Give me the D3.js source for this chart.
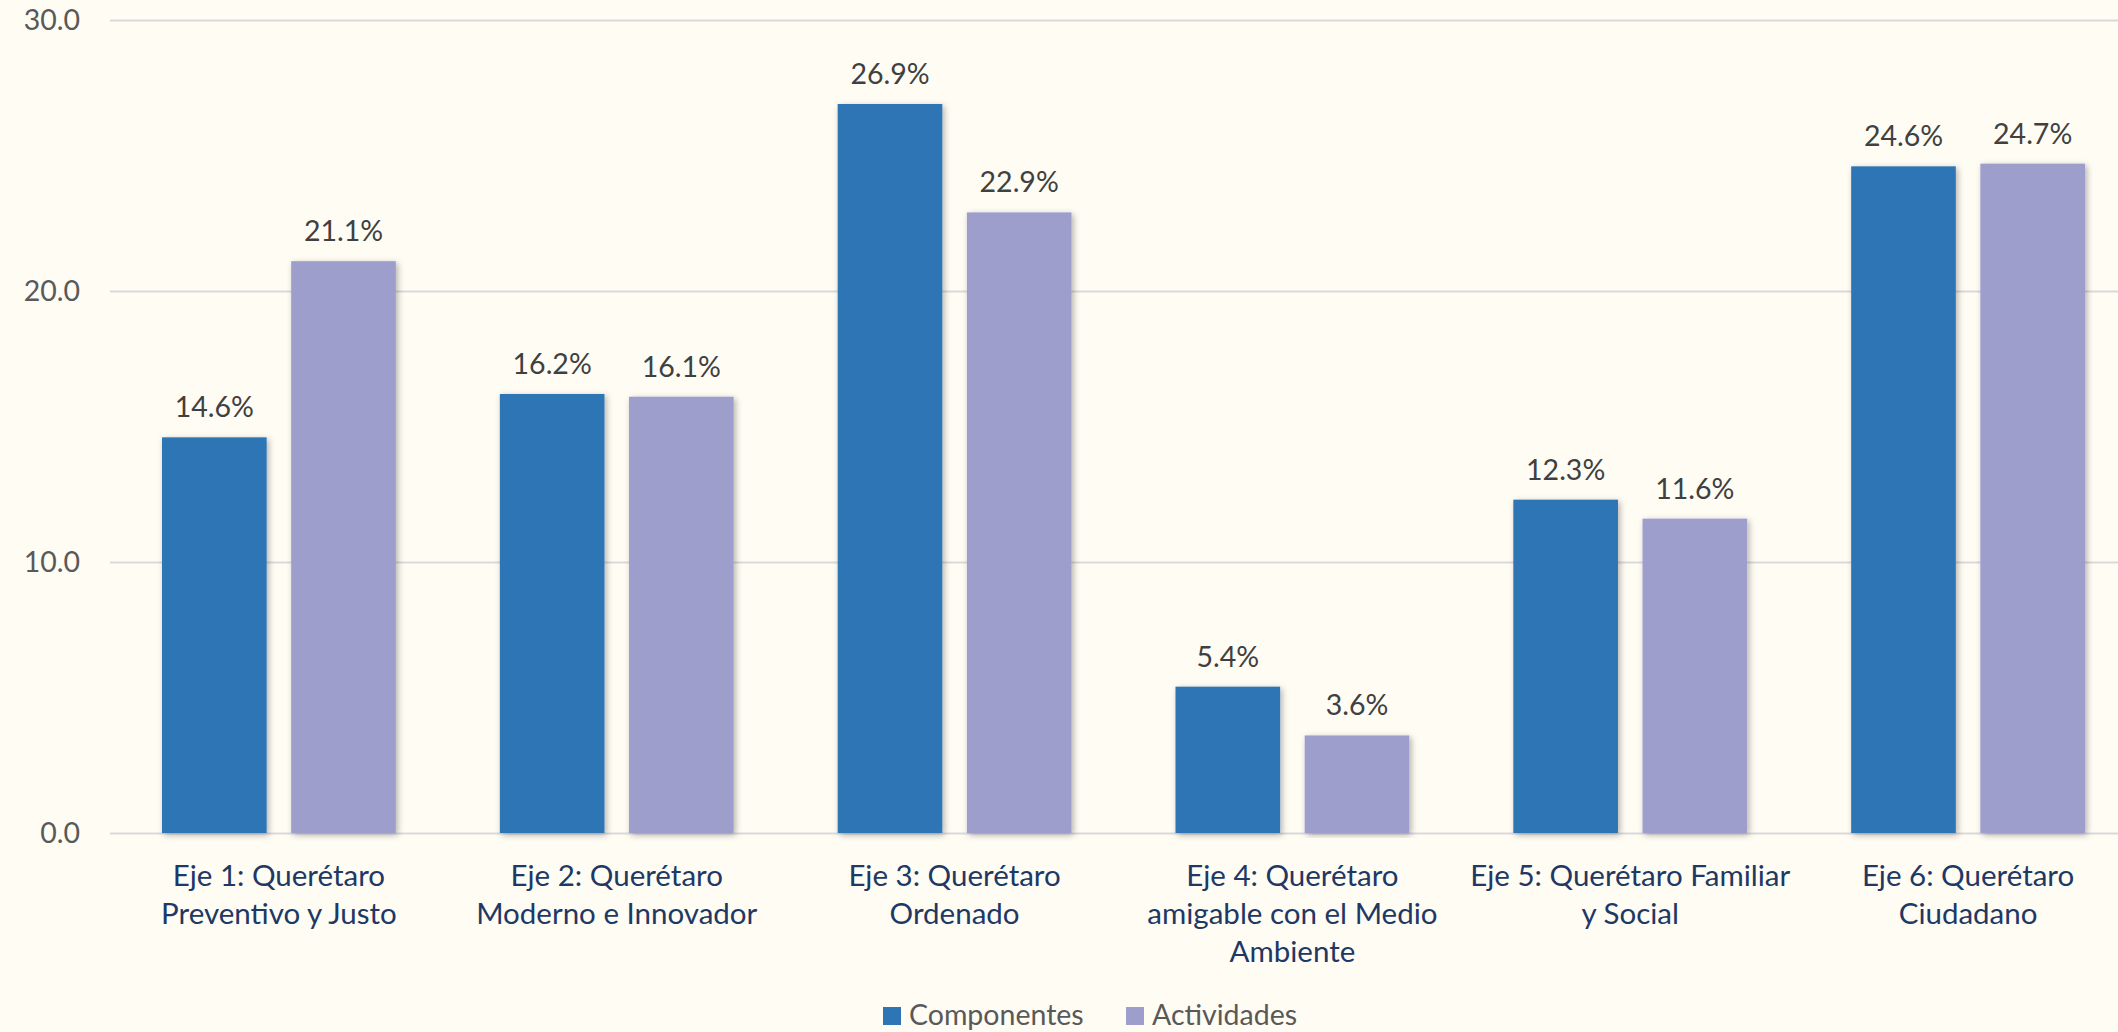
<!DOCTYPE html>
<html>
<head>
<meta charset="utf-8">
<script src="https://cdn.jsdelivr.net/npm/d3@7"></script>
<style>
  html, body { margin: 0; padding: 0; background: #fffcf4; overflow: hidden; }
  text { font-family: Lato, "Open Sans", sans-serif; }
</style>
</head>
<body>
<svg id="chart" width="2118" height="1032"></svg>
<script>
// chart data
let categories = [
    ["Eje 1: Querétaro", "Preventivo y Justo"],
    ["Eje 2: Querétaro", "Moderno e Innovador"],
    ["Eje 3: Querétaro", "Ordenado"],
    ["Eje 4: Querétaro", "amigable con el Medio", "Ambiente"],
    ["Eje 5: Querétaro Familiar", "y Social"],
    ["Eje 6: Querétaro", "Ciudadano"]
];
let seriesNames = ["Componentes", "Actividades"];
let componentes = [14.6, 16.2, 26.9, 5.4, 12.3, 24.6];
let actividades = [21.1, 16.1, 22.9, 3.6, 11.6, 24.7];
let yTicks = [0, 10, 20, 30];
let colors = ["#2e75b6", "#9e9ecc"];

let svg = d3.select("#chart");
let plotLeft = 110, plotRight = 2137; // plot runs a bit past the right edge, like the original
let plotTop = 20, plotBottom = 833;

let rows = categories.map((c, i) => ({ idx: i, lines: c, vals: [componentes[i], actividades[i]] }));

let x0 = d3.scaleBand()
    .domain(d3.range(categories.length))
    .range([plotLeft, plotRight])
    .paddingInner(0)
    .paddingOuter(0);

let x1 = d3.scaleBand()
    .domain([0, 1])
    .range([52, x0.bandwidth() - 52])
    .paddingInner(0.19);

let y = d3.scaleLinear().domain([0, 30]).range([plotBottom, plotTop]);

// soft shadow under the bars
let defs = svg.append("defs");
let f = defs.append("filter").attr("id", "shadow")
    .attr("x", "-20%").attr("y", "-5%").attr("width", "140%").attr("height", "110%");
f.append("feDropShadow").attr("dx", 2).attr("dy", 2).attr("stdDeviation", 3)
    .attr("flood-color", "#000").attr("flood-opacity", 0.3);

// gridlines
let yAxis = d3.axisLeft(y).tickValues(yTicks).tickSize(-(plotRight - plotLeft)).tickFormat(d3.format(".1f")).tickPadding(30);
let gy = svg.append("g").attr("transform", "translate(" + plotLeft + ",0)").call(yAxis);
gy.select(".domain").remove();
gy.selectAll(".tick line").attr("stroke", "#d9d9d9").attr("stroke-width", 2);
gy.selectAll(".tick text").attr("fill", "#595959").attr("font-size", 28.5);

// bars
let groups = svg.selectAll(".cat")
    .data(rows)
    .enter()
    .append("g")
    .attr("class", "cat")
    .attr("transform", d => "translate(" + x0(d.idx) + ",0)");

groups.selectAll("rect")
    .data(d => d.vals.map((v, k) => ({ k: k, v: v })))
    .enter()
    .append("rect")
    .attr("x", d => x1(d.k))
    .attr("y", d => y(d.v))
    .attr("width", x1.bandwidth())
    .attr("height", d => y(0) - y(d.v))
    .attr("fill", d => colors[d.k])
    .attr("filter", "url(#shadow)");

// value labels
groups.selectAll(".val")
    .data(d => d.vals.map((v, k) => ({ k: k, v: v })))
    .enter()
    .append("text")
    .attr("class", "val")
    .attr("x", d => x1(d.k) + x1.bandwidth() / 2)
    .attr("y", d => y(d.v) - 20)
    .attr("text-anchor", "middle")
    .attr("font-size", 28.5)
    .attr("fill", "#404040")
    .text(d => d.v.toFixed(1) + "%");

// category labels
let xl = svg.selectAll(".xl")
    .data(rows)
    .enter()
    .append("text")
    .attr("class", "xl")
    .attr("text-anchor", "middle")
    .attr("font-size", 29.5)
    .attr("fill", "#203864");
xl.selectAll("tspan")
    .data(d => d.lines.map(l => ({ l: l, cx: x0(d.idx) + x0.bandwidth() / 2 })))
    .enter()
    .append("tspan")
    .attr("x", d => d.cx)
    .attr("y", (d, i) => 886 + i * 38)
    .text(d => d.l);

// legend
let legend = svg.append("g").attr("transform", "translate(883,1007)");
let legX = [0, 243];
seriesNames.forEach((name, i) => {
    let g = legend.append("g").attr("transform", "translate(" + legX[i] + ",0)");
    g.append("rect").attr("width", 18).attr("height", 18).attr("fill", colors[i]);
    g.append("text").attr("x", 26).attr("y", 18).attr("font-size", 28.5).attr("fill", "#595959").text(name);
});
</script>
</body>
</html>
